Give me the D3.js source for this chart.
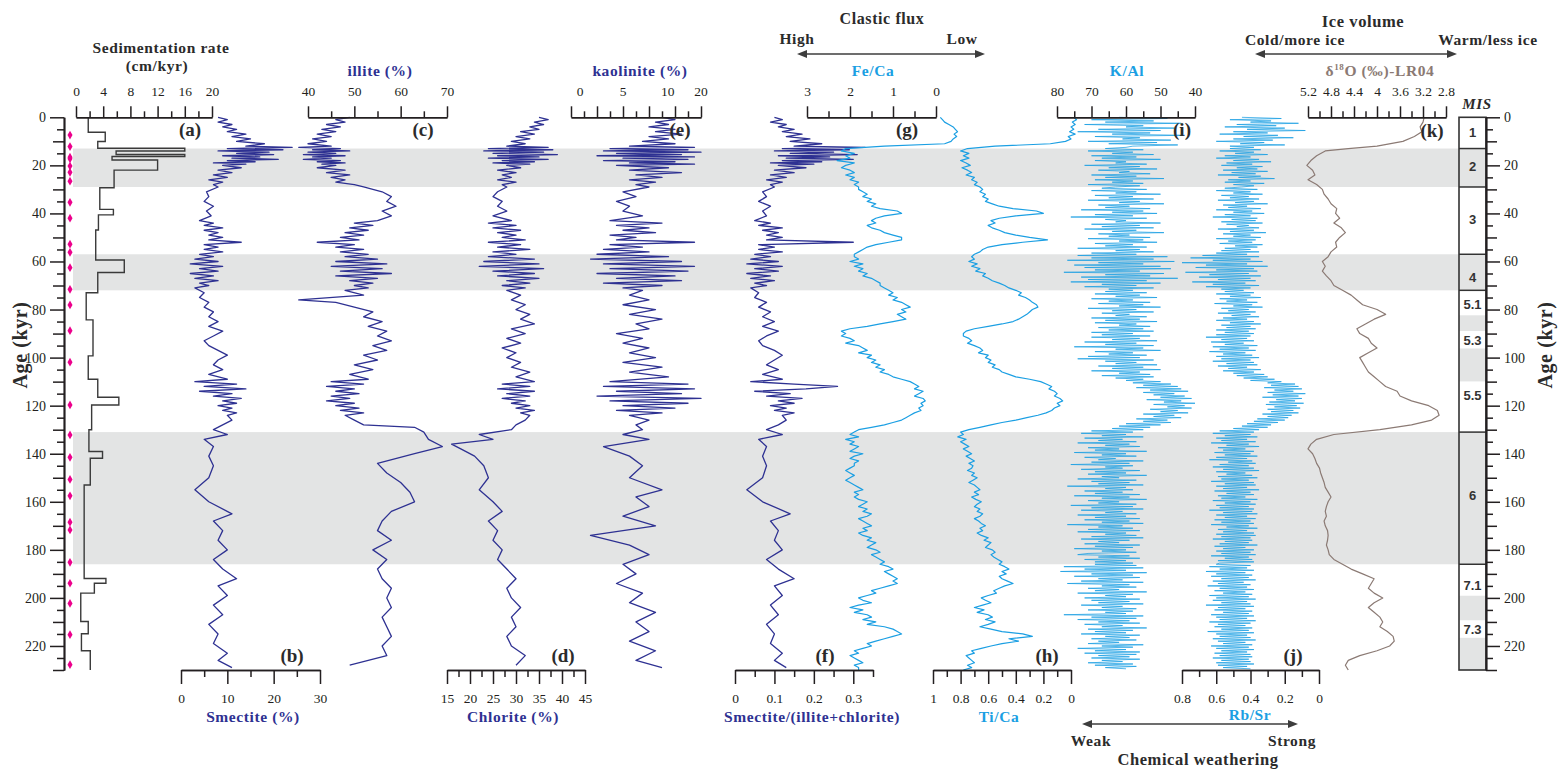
<!DOCTYPE html>
<html>
<head>
<meta charset="utf-8">
<script src="https://cdn.jsdelivr.net/npm/d3@7"></script>
<style>
  html, body { margin: 0; padding: 0; background: #fff; }
  svg text { font-family: "Liberation Serif", "Times New Roman", serif; }
</style>
</head>
<body>
<svg id="chart" width="1562" height="771"></svg>
<script>
// ---------------- data ----------------
// Marine isotope stages: [top age, bottom age, label, shaded]
const misStages = [
  [0, 13, "1", false], [13, 29, "2", true], [29, 57, "3", false], [57, 72, "4", true],
  [72, 82.4, "5.1", false], [82.4, 89, "", true], [89, 96.2, "5.3", false], [96.2, 110, "", true],
  [110, 131, "5.5", false], [131, 186, "6", true], [186, 199.1, "7.1", false], [199.1, 209.4, "", true],
  [209.4, 216.6, "7.3", false], [216.6, 230, "", true]
];
const misBoundaries = [13, 29, 57, 72, 131, 186];
const misLabelAges = [6.3, 20.5, 42.7, 66.7, 78, 93, 115.6, 157.5, 195, 213.2];
const glacialBands = [[13, 29], [57, 72], [131, 186]];

// age-control points (kyr)
const ageControl = [7.4, 12.2, 16.6, 17.3, 20.3, 22.9, 26.6, 35.4, 42, 52.8, 56.2, 62.6, 71.6, 78.1,
  88.8, 101.9, 119.7, 132.2, 141.5, 150.7, 157.5, 168.5, 171.7, 185.2, 193.9, 202.3, 215.3, 227.8];

// Sedimentation rate steps: [top age, bottom age, cm/kyr]
const sedRate = [
  [0, 6.2, 1.8], [6.2, 10.1, 4.3], [10.1, 12.9, 3.2], [12.9, 14, 16], [14, 15.5, 5.9], [15.5, 16.3, 16],
  [16.3, 17.8, 5.3], [17.8, 22, 12], [22, 29.3, 5.6], [29.3, 38.3, 3.5], [38.3, 40.6, 5.5], [40.6, 46.9, 3.3],
  [46.9, 59.4, 2.9], [59.4, 64.6, 7.1], [64.6, 73, 3.2], [73, 84.3, 1.5], [84.3, 99.3, 2.5], [99.3, 109, 1.8],
  [109, 116.5, 3.2], [116.5, 119.7, 6.3], [119.7, 130, 2.3], [130, 139.1, 1.9], [139.1, 141.9, 3.9],
  [141.9, 153, 2.1], [153, 191.9, 1.2], [191.9, 193.9, 4.4], [193.9, 198, 2.7], [198, 209.8, 0.7],
  [209.8, 214.9, 1.8], [214.9, 222, 0.8], [222, 230, 2.1]
];

// Clay minerals: [age kyr, value]
const smectite = [[0,8],[1,10],[2,8],[3,11],[4,9],[5,12],[6,10],[7,14],[8,11],[9,15],[10,12],[11,18],[12,14],[12.5,24],[13,10],[13.5,22],[14,8],[14.5,19],[15,12],[15.5,20],[16,9],[16.5,17],[17,11],[17.5,21],[18,10],[18.5,16],[19,7],[19.5,14],[20,9],[21,13],[22,8],[23,11],[24,7],[25,10],[26,6],[27,9],[28,7],[29,8],[31,5.5],[33,6],[35,5],[37,7],[39,5.5],[41,6.5],[43,4],[44,7],[45,5],[46,9],[47,5],[48,8],[49,6],[50,9],[51,6],[52,13],[53,5],[54,8],[55,5],[56,9],[57,4],[58,7],[59,3],[60,8],[61,2],[62,9],[63,4],[64,8],[65,2],[66,7],[67,3],[68,8],[69,4],[70,6],[71,3],[73,5],[75,4],[77,6],[79,5],[81,7],[83,6],[85,8],[87,6],[89,9],[91,7],[93,5],[95,6],[97,8],[99,10],[101,8],[103,7],[105,9],[107,6],[109,10],[110,3],[111,12],[112,5],[113,14],[114,4],[115,11],[116,7],[117,13],[118,9],[119,12],[120,8],[121,11],[122,9],[123,12],[124,10],[126,11],[128,9],[130,7],[132,10],[134,5],[137,7],[141,6],[145,7],[150,6],[155,3],[160,6],[165,11],[168,7],[172,9],[176,8],[180,10],[184,7],[188,9],[192,12],[195,8],[199,10],[203,7],[207,9],[211,6],[215,8],[219,7],[223,10],[226,8],[229,11]];
const illite = [[0,49],[1,46],[2,48],[3,44],[4,47],[5,43],[6,46],[7,42],[8,45],[9,41],[10,44],[11,40],[12,45],[12.5,38],[13,47],[13.5,41],[14,49],[14.5,40],[15,46],[15.5,39],[16,48],[16.5,41],[17,45],[17.5,39],[18,47],[18.5,42],[19,48],[19.5,43],[20,46],[21,42],[22,48],[23,44],[24,49],[25,45],[26,48],[27,46],[28,50],[29,52],[31,56],[33,58],[35,57],[37,59],[39,56],[41,58],[43,55],[44,50],[45,54],[46,49],[47,53],[48,48],[49,52],[50,47],[51,51],[52,42],[53,50],[54,46],[55,52],[56,47],[57,53],[58,48],[59,55],[60,46],[61,57],[62,45],[63,56],[64,47],[65,58],[66,46],[67,55],[68,49],[69,54],[70,50],[71,53],[72,48],[74,52],[76,38],[77,46],[79,50],[81,54],[83,52],[85,56],[87,53],[89,57],[91,55],[93,58],[95,54],[97,57],[99,52],[101,55],[103,50],[105,54],[107,49],[109,53],[110,45],[111,52],[112,44],[113,50],[114,46],[115,51],[116,45],[117,49],[118,44],[119,50],[120,46],[121,51],[122,47],[123,52],[124,48],[126,50],[128,52],[129,63],[131,65],[134,66],[137,69],[140,63],[144,55],[148,57],[152,60],[156,62],[160,63],[164,58],[168,56],[172,55],[176,58],[180,54],[184,57],[188,55],[192,56],[196,58],[200,57],[204,58],[208,56],[212,57],[216,58],[220,56],[224,57],[228,49]];
const chlorite = [[0,35],[1,37],[2,34],[3,36],[4,33],[5,35],[6,31],[7,34],[8,30],[9,33],[10,29],[11,32],[12,28],[12.5,37],[13,24],[13.5,38],[14,23],[14.5,36],[15,25],[15.5,39],[16,26],[16.5,35],[17,24],[17.5,37],[18,27],[18.5,34],[19,25],[19.5,33],[20,28],[21,31],[22,26],[23,30],[24,27],[25,29],[26,26],[27,30],[28,27],[29,28],[31,26],[33,25],[35,27],[37,26],[39,28],[41,25],[43,29],[44,24],[45,30],[46,25],[47,31],[48,26],[49,30],[50,27],[51,32],[52,24],[53,31],[54,26],[55,33],[56,25],[57,30],[58,24],[59,34],[60,23],[61,35],[62,22],[63,36],[64,25],[65,34],[66,26],[67,35],[68,28],[69,33],[70,27],[71,32],[72,28],[74,31],[76,29],[78,32],[80,30],[82,33],[84,31],[86,34],[88,29],[90,32],[92,28],[94,31],[96,27],[98,30],[100,28],[102,31],[104,29],[106,33],[108,30],[110,34],[111,27],[112,33],[113,26],[114,34],[115,28],[116,33],[117,27],[118,32],[119,29],[120,33],[121,30],[122,34],[123,31],[124,33],[126,32],[128,30],[130,29],[132,22],[134,25],[136,16],[138,18],[141,21],[145,23],[150,24],[155,22],[160,25],[164,27],[168,24],[172,26],[176,25],[180,27],[184,26],[188,28],[192,30],[196,28],[200,29],[204,31],[208,29],[212,30],[216,28],[220,29],[224,32],[228,30]];
const kaolinite = [[0,14],[1,16],[2,13],[3,15],[4,12],[5,16],[6,13],[7,17],[8,12],[9,15],[10,11],[11,16],[12,9],[12.5,19],[13,6],[13.5,18],[14,5],[14.5,20],[15,7],[15.5,17],[16,4],[16.5,19],[17,8],[17.5,18],[18,5],[18.5,16],[19,9],[19.5,19],[20,7],[21,15],[22,9],[23,17],[24,10],[25,14],[26,9],[27,13],[28,10],[29,12],[31,8],[33,10],[35,7],[37,9],[39,8],[41,11],[43,6],[44,14],[45,7],[46,12],[47,8],[48,13],[49,6],[50,10],[51,7],[52,19],[53,6],[54,11],[55,5],[56,12],[57,4],[58,15],[59,3],[60,17],[61,5],[62,19],[63,6],[64,18],[65,4],[66,16],[67,7],[68,17],[69,5],[70,14],[71,8],[72,11],[74,9],[76,12],[78,8],[80,13],[82,9],[84,14],[86,10],[88,12],[90,7],[92,11],[94,8],[96,12],[98,9],[100,13],[102,8],[104,14],[106,9],[108,15],[110,6],[111,18],[112,5],[113,19],[114,7],[115,17],[116,4],[117,20],[118,6],[119,18],[120,8],[121,16],[122,7],[123,14],[124,9],[126,12],[128,10],[130,11],[132,8],[134,12],[137,5],[141,9],[145,11],[150,9],[155,14],[158,10],[162,12],[166,8],[170,13],[174,3],[178,9],[182,12],[186,8],[190,10],[194,7],[198,11],[202,9],[206,13],[210,10],[214,12],[218,9],[222,13],[226,10],[229,14]];
const smectiteRatio = [[0,0.10],[1,0.12],[2,0.09],[3,0.13],[4,0.11],[5,0.15],[6,0.12],[7,0.17],[8,0.13],[9,0.19],[10,0.14],[11,0.22],[12,0.15],[12.5,0.33],[13,0.12],[13.5,0.29],[14,0.1],[14.5,0.25],[15,0.14],[15.5,0.31],[16,0.11],[16.5,0.24],[17,0.13],[17.5,0.3],[18,0.12],[18.5,0.22],[19,0.09],[19.5,0.2],[20,0.11],[21,0.18],[22,0.1],[23,0.15],[24,0.09],[25,0.13],[26,0.08],[27,0.12],[28,0.09],[29,0.1],[31,0.07],[33,0.08],[35,0.06],[37,0.09],[39,0.07],[41,0.08],[43,0.05],[44,0.09],[45,0.06],[46,0.12],[47,0.07],[48,0.11],[49,0.08],[50,0.12],[51,0.08],[52,0.3],[53,0.06],[54,0.1],[55,0.06],[56,0.12],[57,0.05],[58,0.09],[59,0.04],[60,0.11],[61,0.03],[62,0.12],[63,0.05],[64,0.11],[65,0.03],[66,0.09],[67,0.04],[68,0.1],[69,0.05],[70,0.08],[71,0.04],[73,0.06],[75,0.05],[77,0.08],[79,0.06],[81,0.09],[83,0.07],[85,0.1],[87,0.07],[89,0.11],[91,0.08],[93,0.06],[95,0.07],[97,0.1],[99,0.12],[101,0.1],[103,0.08],[105,0.11],[107,0.07],[109,0.12],[110,0.04],[111,0.15],[112,0.26],[113,0.18],[114,0.05],[115,0.14],[116,0.08],[117,0.17],[118,0.11],[119,0.15],[120,0.09],[121,0.13],[122,0.1],[123,0.15],[124,0.12],[126,0.13],[128,0.11],[130,0.08],[132,0.12],[134,0.06],[137,0.08],[141,0.07],[145,0.08],[150,0.07],[155,0.03],[160,0.07],[165,0.14],[168,0.09],[172,0.11],[176,0.1],[180,0.12],[184,0.08],[188,0.11],[192,0.15],[195,0.1],[199,0.12],[203,0.09],[207,0.11],[211,0.08],[215,0.1],[219,0.09],[223,0.12],[226,0.1],[229,0.13]];

// XRF element ratios (Fe/Ca, Ti/Ca), one value per kyr from 0 kyr
const ratioStep = 1;
const feCa = [-0.1,-0.15,-0.2,-0.3,-0.4,-0.45,-0.5,-0.42,-0.48,-0.4,-0.35,-0.2,1.2,
  2.1,2.2,1.9,2.1,2.0,2.3,1.9,2.1,2.2,2.0,1.9,2.1,1.9,2.0,1.8,1.9,1.8,
  1.8,1.7,1.6,1.7,1.5,1.6,1.4,1.5,1.3,0.9,0.8,1.2,1.4,1.5,1.4,1.6,1.5,1.3,1.2,1.0,0.8,0.8,1.1,1.4,1.6,1.7,1.8,1.9,
  1.9,1.8,2.0,1.7,1.9,1.7,1.8,1.6,1.7,1.5,1.4,1.3,1.3,1.2,1.1,
  1.0,1.1,0.9,1.0,0.8,0.7,0.6,0.8,0.7,0.9,0.8,0.7,1.0,1.3,1.6,2.0,2.2,2.1,
  2.2,2.0,1.9,2.1,1.8,1.7,1.6,1.8,1.5,1.6,1.4,1.5,1.3,1.4,1.2,1.3,1.1,1.0,0.8,0.6,
  0.5,0.4,0.5,0.3,0.4,0.5,0.3,0.25,0.35,0.3,0.4,0.35,0.5,0.6,0.7,0.8,1.0,1.2,1.5,1.8,
  1.9,2.0,1.8,2.1,1.9,2.0,1.8,1.9,2.0,1.7,1.9,2.0,1.8,1.9,1.9,2.0,2.1,2.0,1.9,2.0,2.1,2.0,1.9,1.8,1.7,1.9,1.8,1.9,1.8,1.6,1.7,1.8,1.6,1.7,1.5,1.6,1.8,1.7,1.6,1.5,1.7,1.6,1.8,1.7,1.5,1.6,1.4,1.5,1.6,1.4,1.3,1.5,1.4,1.3,1.2,1.3,
  1.1,1.0,1.2,1.1,1.0,0.9,1.0,0.9,1.1,1.3,1.5,1.4,1.6,1.8,1.7,1.5,1.8,2.0,1.7,1.9,1.6,1.5,1.7,1.4,1.6,1.2,1.0,0.9,0.8,1.0,1.2,1.4,1.6,1.5,1.7,1.9,1.8,2.0,1.9,1.8,1.7,1.9,1.8,1.8];
const tiCa = [-0.02,-0.04,-0.01,-0.03,0.0,-0.02,0.01,-0.03,0.02,0.0,0.04,0.15,0.55,
  0.75,0.8,0.74,0.78,0.74,0.8,0.76,0.73,0.79,0.75,0.72,0.76,0.7,0.72,0.68,0.7,0.66,
  0.64,0.66,0.62,0.64,0.6,0.62,0.57,0.52,0.42,0.25,0.2,0.4,0.52,0.58,0.55,0.6,0.57,0.52,0.48,0.4,0.3,0.17,0.35,0.5,0.6,0.64,0.66,0.7,
  0.72,0.7,0.74,0.68,0.72,0.66,0.69,0.62,0.64,0.6,0.57,0.52,0.48,0.45,0.4,
  0.36,0.38,0.33,0.3,0.28,0.25,0.24,0.28,0.3,0.32,0.35,0.38,0.42,0.5,0.6,0.7,0.76,0.78,
  0.78,0.74,0.72,0.75,0.7,0.66,0.64,0.67,0.6,0.62,0.58,0.6,0.55,0.57,0.52,0.5,0.45,0.4,0.3,0.22,
  0.18,0.14,0.16,0.12,0.1,0.12,0.08,0.06,0.1,0.08,0.12,0.14,0.18,0.24,0.32,0.4,0.5,0.58,0.66,0.74,
  0.8,0.78,0.82,0.76,0.8,0.77,0.74,0.78,0.75,0.72,0.76,0.73,0.7,0.74,0.71,0.72,0.75,0.7,0.72,0.68,0.71,0.74,0.7,0.68,0.66,0.7,0.67,0.72,0.69,0.65,0.68,0.7,0.66,0.68,0.64,0.66,0.7,0.67,0.65,0.62,0.66,0.64,0.68,0.65,0.6,0.63,0.58,0.6,0.62,0.57,0.55,0.58,0.56,0.53,0.5,0.52,
  0.48,0.45,0.5,0.47,0.52,0.5,0.46,0.42,0.48,0.52,0.56,0.54,0.6,0.65,0.62,0.58,0.64,0.7,0.63,0.68,0.6,0.57,0.62,0.55,0.6,0.66,0.58,0.5,0.35,0.28,0.45,0.38,0.5,0.58,0.65,0.72,0.7,0.76,0.74,0.72,0.7,0.75,0.72,0.78];

// K/Al and Rb/Sr, one value per 0.5 kyr from 0 kyr
const scanStep = 0.5;
const kAl = [62,48,70,52,66,44,72,55,60,46,68,50,74,53,64,43,69,56,61,47,71,51,65,45,58,60,
  66,55,71,58,64,52,70,57,67,50,69,60,63,54,72,56,65,51,68,59,62,53,70,57,66,49,69,58,64,55,71,56,63,
  67,54,70,57,63,50,69,58,65,52,71,56,62,49,68,59,66,53,73,55,64,51,69,58,76,54,66,60,63,50,70,56,67,52,72,57,64,49,68,59,65,53,71,55,62,51,69,58,66,54,74,56,63,52,70,57,
  74,48,70,52,77,46,68,55,75,50,72,47,69,56,78,49,66,53,73,45,71,54,76,50,67,57,72,52,65,58,
  66,54,69,56,63,51,70,58,65,53,68,55,62,50,71,57,64,52,67,59,63,54,70,56,66,51,69,57,62,53,68,55,65,52,70,58,
  67,53,70,56,64,51,72,57,66,52,75,55,63,50,69,58,65,54,71,56,74,52,66,57,63,51,68,55,64,50,70,56,62,53,67,52,63,55,60,50,
  58,47,55,45,57,44,53,42,55,46,52,43,50,41,54,44,49,40,52,43,48,41,53,45,50,42,55,46,52,44,57,48,55,47,60,50,62,53,64,55,
  70,58,73,60,67,55,72,61,68,57,74,59,66,56,71,62,69,54,75,60,67,57,72,63,68,55,70,59,76,58,66,61,73,56,69,60,71,54,67,62,74,57,70,59,68,55,77,60,66,58,72,61,69,56,75,59,67,54,71,62,68,57,76,58,70,55,73,61,66,57,74,60,69,56,72,59,67,55,77,61,68,58,71,56,74,60,66,57,70,55,73,59,68,62,72,56,69,58,75,60,67,57,71,74,59,68,56,72,60,69,58,
  69,57,78,55,72,60,79,54,70,58,75,56,68,61,73,55,77,59,67,57,71,62,69,54,74,58,66,60,72,56,70,59,68,55,73,61,67,57,71,58,66,60,78,55,70,57,74,59,68,56,72,61,67,54,71,58,69,60,73,56,66,59,70,57,68,62,71,55,67,58,74,60,69,56,72,57,68,59,70,56,67,61,71,58,69,57,66,60];
const rbSr = [0.45,0.22,0.52,0.28,0.4,0.12,0.48,0.25,0.55,0.2,0.42,0.08,0.5,0.3,0.58,0.24,0.44,0.15,0.5,0.27,0.6,0.32,0.46,0.2,0.52,0.38,
  0.52,0.34,0.58,0.38,0.49,0.3,0.55,0.4,0.6,0.35,0.5,0.28,0.54,0.39,0.57,0.33,0.48,0.36,0.56,0.3,0.51,0.37,0.59,0.34,0.47,0.26,0.53,0.4,0.55,0.32,0.5,0.38,0.45,
  0.55,0.36,0.6,0.4,0.5,0.33,0.57,0.41,0.52,0.35,0.59,0.38,0.49,0.3,0.56,0.42,0.53,0.34,0.6,0.39,0.5,0.32,0.55,0.4,0.62,0.36,0.51,0.37,0.57,0.33,0.54,0.41,0.48,0.35,0.59,0.38,0.52,0.31,0.56,0.4,0.5,0.34,0.6,0.37,0.53,0.39,0.58,0.33,0.49,0.36,0.55,0.4,0.57,0.35,0.6,0.42,
  0.68,0.35,0.75,0.4,0.62,0.33,0.8,0.42,0.66,0.3,0.72,0.38,0.6,0.36,0.78,0.41,0.64,0.34,0.7,0.4,0.59,0.37,0.74,0.43,0.62,0.35,0.66,0.4,0.57,0.44,
  0.55,0.38,0.6,0.4,0.52,0.34,0.58,0.42,0.54,0.36,0.61,0.39,0.5,0.33,0.57,0.41,0.53,0.37,0.59,0.4,0.51,0.35,0.56,0.42,0.6,0.38,0.52,0.34,0.57,0.4,0.54,0.37,0.6,0.41,0.55,0.38,
  0.6,0.4,0.66,0.42,0.57,0.38,0.63,0.44,0.55,0.36,0.62,0.41,0.58,0.37,0.64,0.43,0.56,0.39,0.6,0.35,0.57,0.4,0.62,0.38,0.54,0.36,0.59,0.42,0.53,0.34,0.56,0.38,0.5,0.32,0.48,0.3,0.44,0.26,0.4,0.22,
  0.3,0.14,0.28,0.12,0.32,0.1,0.26,0.15,0.3,0.08,0.27,0.12,0.33,0.1,0.25,0.14,0.29,0.09,0.31,0.13,0.26,0.11,0.3,0.15,0.28,0.12,0.33,0.16,0.3,0.18,0.36,0.2,0.38,0.24,0.42,0.28,0.45,0.3,0.5,0.35,
  0.58,0.38,0.62,0.4,0.55,0.36,0.6,0.42,0.57,0.37,0.63,0.41,0.54,0.35,0.59,0.43,0.56,0.38,0.61,0.4,0.55,0.36,0.6,0.42,0.64,0.39,0.53,0.37,0.58,0.41,0.62,0.38,0.56,0.35,0.6,0.43,0.54,0.39,0.59,0.36,0.57,0.41,0.63,0.38,0.55,0.37,0.6,0.42,0.56,0.35,0.61,0.4,0.54,0.38,0.59,0.43,0.57,0.36,0.62,0.4,0.55,0.37,0.6,0.41,0.58,0.38,0.64,0.39,0.56,0.36,0.6,0.42,0.55,0.37,0.61,0.4,0.57,0.38,0.63,0.41,0.54,0.36,0.59,0.42,0.56,0.38,0.6,0.37,0.57,0.4,0.62,0.39,0.55,0.41,0.58,0.36,0.61,0.43,0.56,0.38,0.6,0.4,0.57,0.37,0.63,0.41,0.55,0.39,0.59,0.38,0.58,
  0.6,0.4,0.64,0.42,0.58,0.38,0.66,0.43,0.6,0.39,0.63,0.41,0.57,0.37,0.62,0.44,0.59,0.4,0.65,0.42,0.58,0.38,0.61,0.43,0.56,0.39,0.64,0.41,0.6,0.37,0.62,0.42,0.57,0.4,0.66,0.38,0.59,0.43,0.61,0.39,0.56,0.41,0.63,0.38,0.6,0.42,0.58,0.37,0.64,0.4,0.59,0.43,0.61,0.39,0.57,0.41,0.65,0.38,0.6,0.42,0.58,0.4,0.62,0.37,0.59,0.43,0.56,0.39,0.63,0.41,0.6,0.38,0.57,0.42,0.61,0.4,0.58,0.39,0.62,0.41,0.57,0.4,0.6,0.38,0.59,0.42,0.56,0.4];

// Benthic stack delta18O (permil): [age kyr, value]
const d18O = [[0,3.18],[2,3.2],[4,3.25],[6,3.22],[8,3.35],[10,3.55],[12,4.0],[13,4.5],[14,4.9],[16,5.05],[18,5.15],[20,5.22],[22,5.12],[24,5.08],[26,5.2],[28,5.05],[30,4.95],[32,4.92],[34,4.85],[36,4.8],[38,4.7],[40,4.72],[42,4.65],[44,4.75],[46,4.62],[48,4.55],[50,4.65],[52,4.72],[54,4.7],[56,4.8],[58,4.85],[60,4.95],[62,4.9],[64,4.95],[66,4.88],[68,4.8],[70,4.75],[72,4.6],[74,4.45],[76,4.35],[78,4.25],[80,4.0],[82,3.85],[84,4.05],[86,4.2],[88,4.35],[90,4.3],[92,4.15],[94,4.1],[96,4.0],[98,4.15],[100,4.3],[102,4.25],[104,4.2],[106,4.15],[108,4.05],[110,3.95],[112,3.85],[114,3.65],[116,3.6],[118,3.4],[120,3.1],[122,2.95],[124,2.92],[126,3.05],[128,3.4],[130,3.95],[132,4.75],[134,5.05],[136,5.15],[138,5.2],[140,5.12],[142,5.08],[144,5.05],[146,5.0],[148,4.98],[150,4.95],[152,4.92],[154,4.9],[156,4.85],[158,4.8],[160,4.85],[162,4.88],[164,4.9],[166,4.88],[168,4.92],[170,4.9],[172,4.86],[174,4.85],[176,4.86],[178,4.88],[180,4.85],[182,4.83],[184,4.75],[186,4.6],[188,4.45],[190,4.25],[192,4.05],[194,4.1],[196,4.15],[198,4.05],[200,3.9],[202,4.05],[204,4.15],[206,4.05],[208,3.95],[210,3.9],[212,3.95],[214,3.82],[216,3.72],[218,3.7],[220,3.78],[222,4.0],[224,4.3],[226,4.5],[228,4.55],[230,4.5]];

// Axis tick labels
const ageTicks = [0, 20, 40, 60, 80, 100, 120, 140, 160, 180, 200, 220];
const kaolTickText = ["0", "5", "10", "20"];
const kaolTickAt = [1.4, 8, 14.9, 20];

// ---------------- drawing ----------------
const NAVY = "#2e3192", CYAN = "#1b9fe3", BROWN = "#8b7a74", INK = "#231f20";
const svg = d3.select("#chart");
const y = d3.scaleLinear().domain([0, 230]).range([117.3, 670]);
const TOP = y(0), BOT = y(230);

// glacial shading
svg.append("g").selectAll("rect").data(glacialBands).join("rect")
  .attr("x", 73).attr("width", 1459 - 73)
  .attr("y", d => y(d[0])).attr("height", d => y(d[1]) - y(d[0]))
  .attr("fill", "#e3e4e4");

// panel x-scales
const xSed = d3.scaleLinear().domain([0, 20]).range([76, 212]);
const xSme = d3.scaleLinear().domain([0, 30]).range([181, 320]);
const xIll = d3.scaleLinear().domain([40, 70]).range([308, 447]);
const xChl = d3.scaleLinear().domain([15, 45]).range([447, 585]);
const xKao = d3.scaleLinear().domain([0, 20]).range([571, 701]);
const xRat = d3.scaleLinear().domain([0, 0.35]).range([735, 873]);
const xFe = d3.scaleLinear().domain([3, 0]).range([807, 936]);
const xTi = d3.scaleLinear().domain([1, 0]).range([933, 1071]);
const xK = d3.scaleLinear().domain([80, 40]).range([1057, 1195]);
const xRb = d3.scaleLinear().domain([0.8, 0]).range([1182, 1319]);
const xO = d3.scaleLinear().domain([5.2, 2.8]).range([1308, 1446]);

function drawPairs(data, xs, color, w) {
  svg.append("path").datum(data)
    .attr("d", d3.line().x(d => xs(d[1])).y(d => y(d[0])))
    .attr("fill", "none").attr("stroke", color).attr("stroke-width", w)
    .attr("stroke-linejoin", "round");
}
function drawSeries(vals, step, xs, color, w) {
  drawPairs(vals.map((v, i) => [i * step, v]), xs, color, w);
}

drawPairs(smectite, xSme, NAVY, 1.3);
drawPairs(illite, xIll, NAVY, 1.3);
drawPairs(chlorite, xChl, NAVY, 1.3);
drawPairs(kaolinite, xKao, NAVY, 1.3);
drawPairs(smectiteRatio, xRat, NAVY, 1.3);
drawSeries(feCa, ratioStep, xFe, CYAN, 1.2);
drawSeries(tiCa, ratioStep, xTi, CYAN, 1.2);
drawSeries(kAl, scanStep, xK, CYAN, 0.75);
drawSeries(rbSr, scanStep, xRb, CYAN, 0.75);
drawPairs(d18O, xO, BROWN, 1.2);

// sedimentation-rate step curve
const sedPts = [];
sedRate.forEach(s => { sedPts.push([s[0], s[2]]); sedPts.push([s[1], s[2]]); });
svg.append("path").datum(sedPts)
  .attr("d", d3.line().x(d => xSed(d[1])).y(d => y(d[0])))
  .attr("fill", "none").attr("stroke", "#3a3a3a").attr("stroke-width", 1.4);

// age-control markers
svg.append("g").selectAll("path").data(ageControl).join("path")
  .attr("d", d3.symbol(d3.symbolDiamond, 22))
  .attr("transform", d => `translate(70,${y(d)})`)
  .attr("fill", "#ec008c");

// ---- axes helpers ----
function styleAxis(g, fs) {
  g.selectAll("path.domain").attr("stroke", INK).attr("stroke-width", 1.5);
  g.selectAll(".tick line").attr("stroke", INK).attr("stroke-width", 1.5);
  g.selectAll("text").attr("fill", INK).style("font-size", fs + "px")
    .style("font-family", "'Liberation Serif','Times New Roman',serif");
}
function hAxis(xs, side, majors, minors, fmt) {
  const ya = side === "top" ? TOP : BOT;
  const mk = side === "top" ? d3.axisTop : d3.axisBottom;
  const big = side === "top" ? 11 : 14, small = side === "top" ? 6 : 7;
  svg.append("g").attr("transform", `translate(0,${ya})`)
    .call(mk(xs).tickValues(minors).tickSize(small).tickSizeOuter(0).tickFormat(""))
    .call(g => styleAxis(g, 13.5));
  svg.append("g").attr("transform", `translate(0,${ya})`)
    .call(mk(xs).tickValues(majors).tickSize(big).tickSizeOuter(0)
      .tickPadding(side === "top" ? 10 : 9).tickFormat(fmt))
    .call(g => styleAxis(g, 13.5));
}
const f0 = d => d3.format("")(+d.toFixed(2));

hAxis(xSed, "top", [0, 4, 8, 12, 16, 20], [2, 6, 10, 14, 18], f0);
hAxis(xIll, "top", [40, 50, 60, 70], [45, 55, 65], f0);
hAxis(xKao, "top", [0, 4, 8, 12, 16, 20], [2, 6, 10, 14, 18], () => "");
hAxis(xFe, "top", [3, 2, 1, 0], [2.5, 1.5, 0.5], f0);
hAxis(xK, "top", [80, 70, 60, 50, 40], [75, 65, 55, 45], f0);
hAxis(xO, "top", [5.2, 4.8, 4.4, 4.0, 3.6, 3.2, 2.8], [5.0, 4.6, 4.2, 3.8, 3.4, 3.0], f0);
hAxis(xSme, "bottom", [0, 10, 20, 30], [5, 15, 25], f0);
hAxis(xChl, "bottom", [15, 20, 25, 30, 35, 40, 45], [17.5, 22.5, 27.5, 32.5, 37.5, 42.5], f0);
hAxis(xRat, "bottom", [0, 0.1, 0.2, 0.3], [0.05, 0.15, 0.25, 0.35], f0);
hAxis(xTi, "bottom", [1, 0.8, 0.6, 0.4, 0.2, 0], [0.9, 0.7, 0.5, 0.3, 0.1], f0);
hAxis(xRb, "bottom", [0.8, 0.6, 0.4, 0.2, 0], [0.7, 0.5, 0.3, 0.1], f0);

// kaolinite tick labels
svg.append("g").selectAll("text").data(kaolTickText).join("text")
  .attr("x", (d, i) => xKao(kaolTickAt[i])).attr("y", TOP - 21)
  .attr("text-anchor", "middle").attr("fill", INK).style("font-size", "13.5px").text(d => d);

// vertical age axes
function vAxis(xa, side) {
  const mk = side === "left" ? d3.axisLeft : d3.axisRight;
  const fives = d3.range(5, 231, 5).filter(v => v % 10 !== 0);
  const tens = d3.range(10, 231, 10).filter(v => v % 20 !== 0);
  svg.append("g").attr("transform", `translate(${xa},0)`)
    .call(mk(y).tickValues(fives).tickSize(7).tickSizeOuter(0).tickFormat(""))
    .call(g => styleAxis(g, 14));
  svg.append("g").attr("transform", `translate(${xa},0)`)
    .call(mk(y).tickValues(tens).tickSize(11).tickSizeOuter(0).tickFormat(""))
    .call(g => styleAxis(g, 14));
  svg.append("g").attr("transform", `translate(${xa},0)`)
    .call(mk(y).tickValues(ageTicks).tickSize(14).tickSizeOuter(0).tickPadding(4).tickFormat(d3.format("d")))
    .call(g => styleAxis(g, 14));
}
vAxis(64, "left");

// MIS column
const mis = svg.append("g");
mis.selectAll("rect").data(misStages).join("rect")
  .attr("x", 1459).attr("width", 27)
  .attr("y", d => y(d[0])).attr("height", d => y(d[1]) - y(d[0]))
  .attr("fill", d => d[3] ? "#e3e4e4" : "#fff");
mis.selectAll("line").data(misBoundaries).join("line")
  .attr("x1", 1459).attr("x2", 1486).attr("y1", d => y(d)).attr("y2", d => y(d))
  .attr("stroke", "#333").attr("stroke-width", 1.5);
mis.append("rect").attr("x", 1459).attr("y", TOP).attr("width", 27).attr("height", BOT - TOP)
  .attr("fill", "none").attr("stroke", "#333").attr("stroke-width", 1.6);
const misLabels = misStages.filter(d => d[2] !== "");
mis.selectAll("text").data(misLabels).join("text")
  .attr("x", 1472.5).attr("y", (d, i) => y(misLabelAges[i]))
  .attr("text-anchor", "middle").attr("dominant-baseline", "central")
  .style("font-family", "'Liberation Sans',Arial,sans-serif").style("font-weight", "bold")
  .style("font-size", "13px").attr("fill", "#333").text(d => d[2]);
vAxis(1486, "right");

// ---- text ----
function txt(x, yy, s, opt = {}) {
  const t = svg.append("text").attr("x", x).attr("y", yy).attr("text-anchor", opt.anchor || "middle")
    .attr("fill", opt.color || "#2b2b2b")
    .style("font-size", (opt.size || 15.5) + "px").style("font-weight", opt.weight || "bold")
    .style("letter-spacing", opt.ls || "0.6px");
  if (opt.italic) t.style("font-style", "italic");
  if (opt.rotate) t.attr("transform", `rotate(-90,${x},${yy})`);
  t.text(s);
  return t;
}
txt(161, 53, "Sedimentation rate");
txt(157, 71, "(cm/kyr)");
txt(380, 76, "illite (%)", { color: NAVY });
txt(640, 76, "kaolinite (%)", { color: NAVY });
txt(873, 76, "Fe/Ca", { color: CYAN });
txt(1127, 76, "K/Al", { color: CYAN });
const o18 = txt(1380, 76, "", { color: BROWN });
o18.append("tspan").text("δ");
o18.append("tspan").attr("dy", -6).style("font-size", "9px").text("18");
o18.append("tspan").attr("dy", 6).text("O (‰)-LR04");
txt(882, 24, "Clastic flux", { size: 16 });
txt(797, 44, "High");
txt(962, 44, "Low");
txt(1363, 27, "Ice volume", { size: 16.5 });
txt(1295, 45, "Cold/more ice");
txt(1488, 45, "Warm/less ice");
txt(1477, 109, "MIS", { italic: true, size: 15 });
txt(253, 722, "Smectite (%)", { color: NAVY });
txt(513, 722, "Chlorite (%)", { color: NAVY });
txt(812, 722, "Smectite/(illite+chlorite)", { color: NAVY });
txt(999, 722, "Ti/Ca", { color: CYAN });
txt(1250, 720, "Rb/Sr", { color: CYAN });
txt(1091, 746, "Weak");
txt(1292, 746, "Strong");
txt(1198, 765, "Chemical weathering", { size: 16.5 });
txt(27, 345, "Age (kyr)", { rotate: true, size: 20 });
txt(1552, 345, "Age (kyr)", { rotate: true, size: 20 });

// panel letters
const letters = [["(a)", 190, 136], ["(c)", 423, 136], ["(e)", 680, 136], ["(g)", 907, 136],
  ["(i)", 1182, 136], ["(k)", 1432, 137], ["(b)", 292, 662], ["(d)", 563, 662], ["(f)", 825, 662],
  ["(h)", 1047, 662], ["(j)", 1293, 662]];
letters.forEach(l => txt(l[1], l[2], l[0], { size: 19, ls: "0px" }));

// double-headed arrows
function arrow(x1, x2, ya) {
  const g = svg.append("g").attr("fill", "#3d3d3d");
  g.append("line").attr("x1", x1 + 4).attr("x2", x2 - 4).attr("y1", ya).attr("y2", ya)
    .attr("stroke", "#3d3d3d").attr("stroke-width", 1.3);
  g.append("path").attr("d", `M${x1},${ya}L${x1 + 10},${ya - 4}L${x1 + 10},${ya + 4}Z`);
  g.append("path").attr("d", `M${x2},${ya}L${x2 - 10},${ya - 4}L${x2 - 10},${ya + 4}Z`);
}
arrow(797, 985, 54);
arrow(1255, 1457, 54);
arrow(1082, 1298, 724);
</script>
</body>
</html>
